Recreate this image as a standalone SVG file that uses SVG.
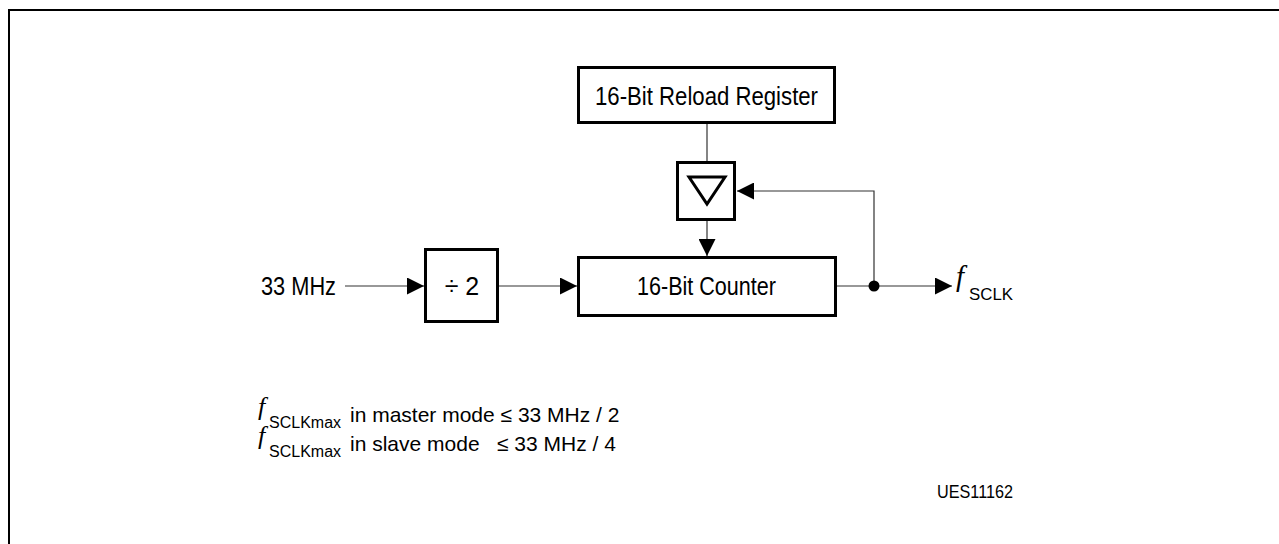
<svg xmlns="http://www.w3.org/2000/svg" width="1279" height="544" viewBox="0 0 1279 544">
<defs>
<style>
.box{fill:#fff;stroke:#000;stroke-width:3}
.ln{fill:none;stroke:#333;stroke-width:1.2}
.t{font-family:"Liberation Sans",Arial,sans-serif;fill:#000}
.fi{font-family:"Liberation Serif","Times New Roman",serif;font-style:italic;fill:#000}
</style>
<marker id="ah" viewBox="0 0 17 17" refX="17" refY="8.5" markerWidth="17" markerHeight="17" markerUnits="userSpaceOnUse" orient="auto">
<path d="M0,0 L17,8.5 L0,17 Z" fill="#000"/>
</marker>
</defs>
<rect x="0" y="0" width="1279" height="544" fill="#fff"/>
<path d="M9,544 V10 H1279" fill="none" stroke="#000" stroke-width="2"/>

<g id="connectors">
<line class="ln" x1="345" y1="286" x2="424" y2="286" marker-end="url(#ah)"/>
<line class="ln" x1="499" y1="286" x2="577" y2="286" marker-end="url(#ah)"/>
<line class="ln" x1="836" y1="286" x2="952" y2="286" marker-end="url(#ah)"/>
<line class="ln" x1="707" y1="124" x2="707" y2="161"/>
<line class="ln" x1="707" y1="221" x2="707" y2="256" marker-end="url(#ah)"/>
<polyline class="ln" points="874,286 874,191 737,191" marker-end="url(#ah)"/>
<circle cx="874" cy="286" r="5.5" fill="#000"/>
</g>

<g id="reload-register">
<rect class="box" x="578.5" y="67.5" width="256" height="55"/>
<text class="t" x="595" y="104.5" font-size="25" textLength="223" lengthAdjust="spacingAndGlyphs">16-Bit Reload Register</text>
</g>

<g id="comparator">
<rect class="box" x="677.5" y="162.5" width="57" height="57"/>
<polygon points="689,177 725,177 707,204" fill="none" stroke="#000" stroke-width="3" stroke-linejoin="miter"/>
</g>

<g id="divider">
<rect class="box" x="425.5" y="249.5" width="72" height="72"/>
<text class="t" x="462" y="295" font-size="25" text-anchor="middle">÷ 2</text>
</g>

<g id="counter">
<rect class="box" x="578.5" y="257.5" width="257" height="58"/>
<text class="t" x="637" y="295" font-size="25" textLength="139" lengthAdjust="spacingAndGlyphs">16-Bit Counter</text>
</g>

<g id="input-label">
<text class="t" x="261" y="295" font-size="25" textLength="75" lengthAdjust="spacingAndGlyphs">33 MHz</text>
</g>

<g id="output-label">
<text class="fi" x="956" y="286" font-size="29">f</text>
<text class="t" x="969" y="300" font-size="17" textLength="44" lengthAdjust="spacingAndGlyphs">SCLK</text>
</g>

<g id="notes">
<text class="fi" x="258" y="415" font-size="26">f</text>
<text class="t" x="269" y="428" font-size="16">SCLKmax</text>
<text class="t" x="350" y="422" font-size="21">in master mode ≤ 33 MHz / 2</text>
<text class="fi" x="258" y="444" font-size="26">f</text>
<text class="t" x="269" y="457" font-size="16">SCLKmax</text>
<text class="t" x="350" y="451" font-size="21">in slave mode</text>
<text class="t" x="497" y="451" font-size="21">≤ 33 MHz / 4</text>
<text class="t" x="937" y="498" font-size="18" textLength="76" lengthAdjust="spacingAndGlyphs">UES11162</text>
</g>
</svg>
